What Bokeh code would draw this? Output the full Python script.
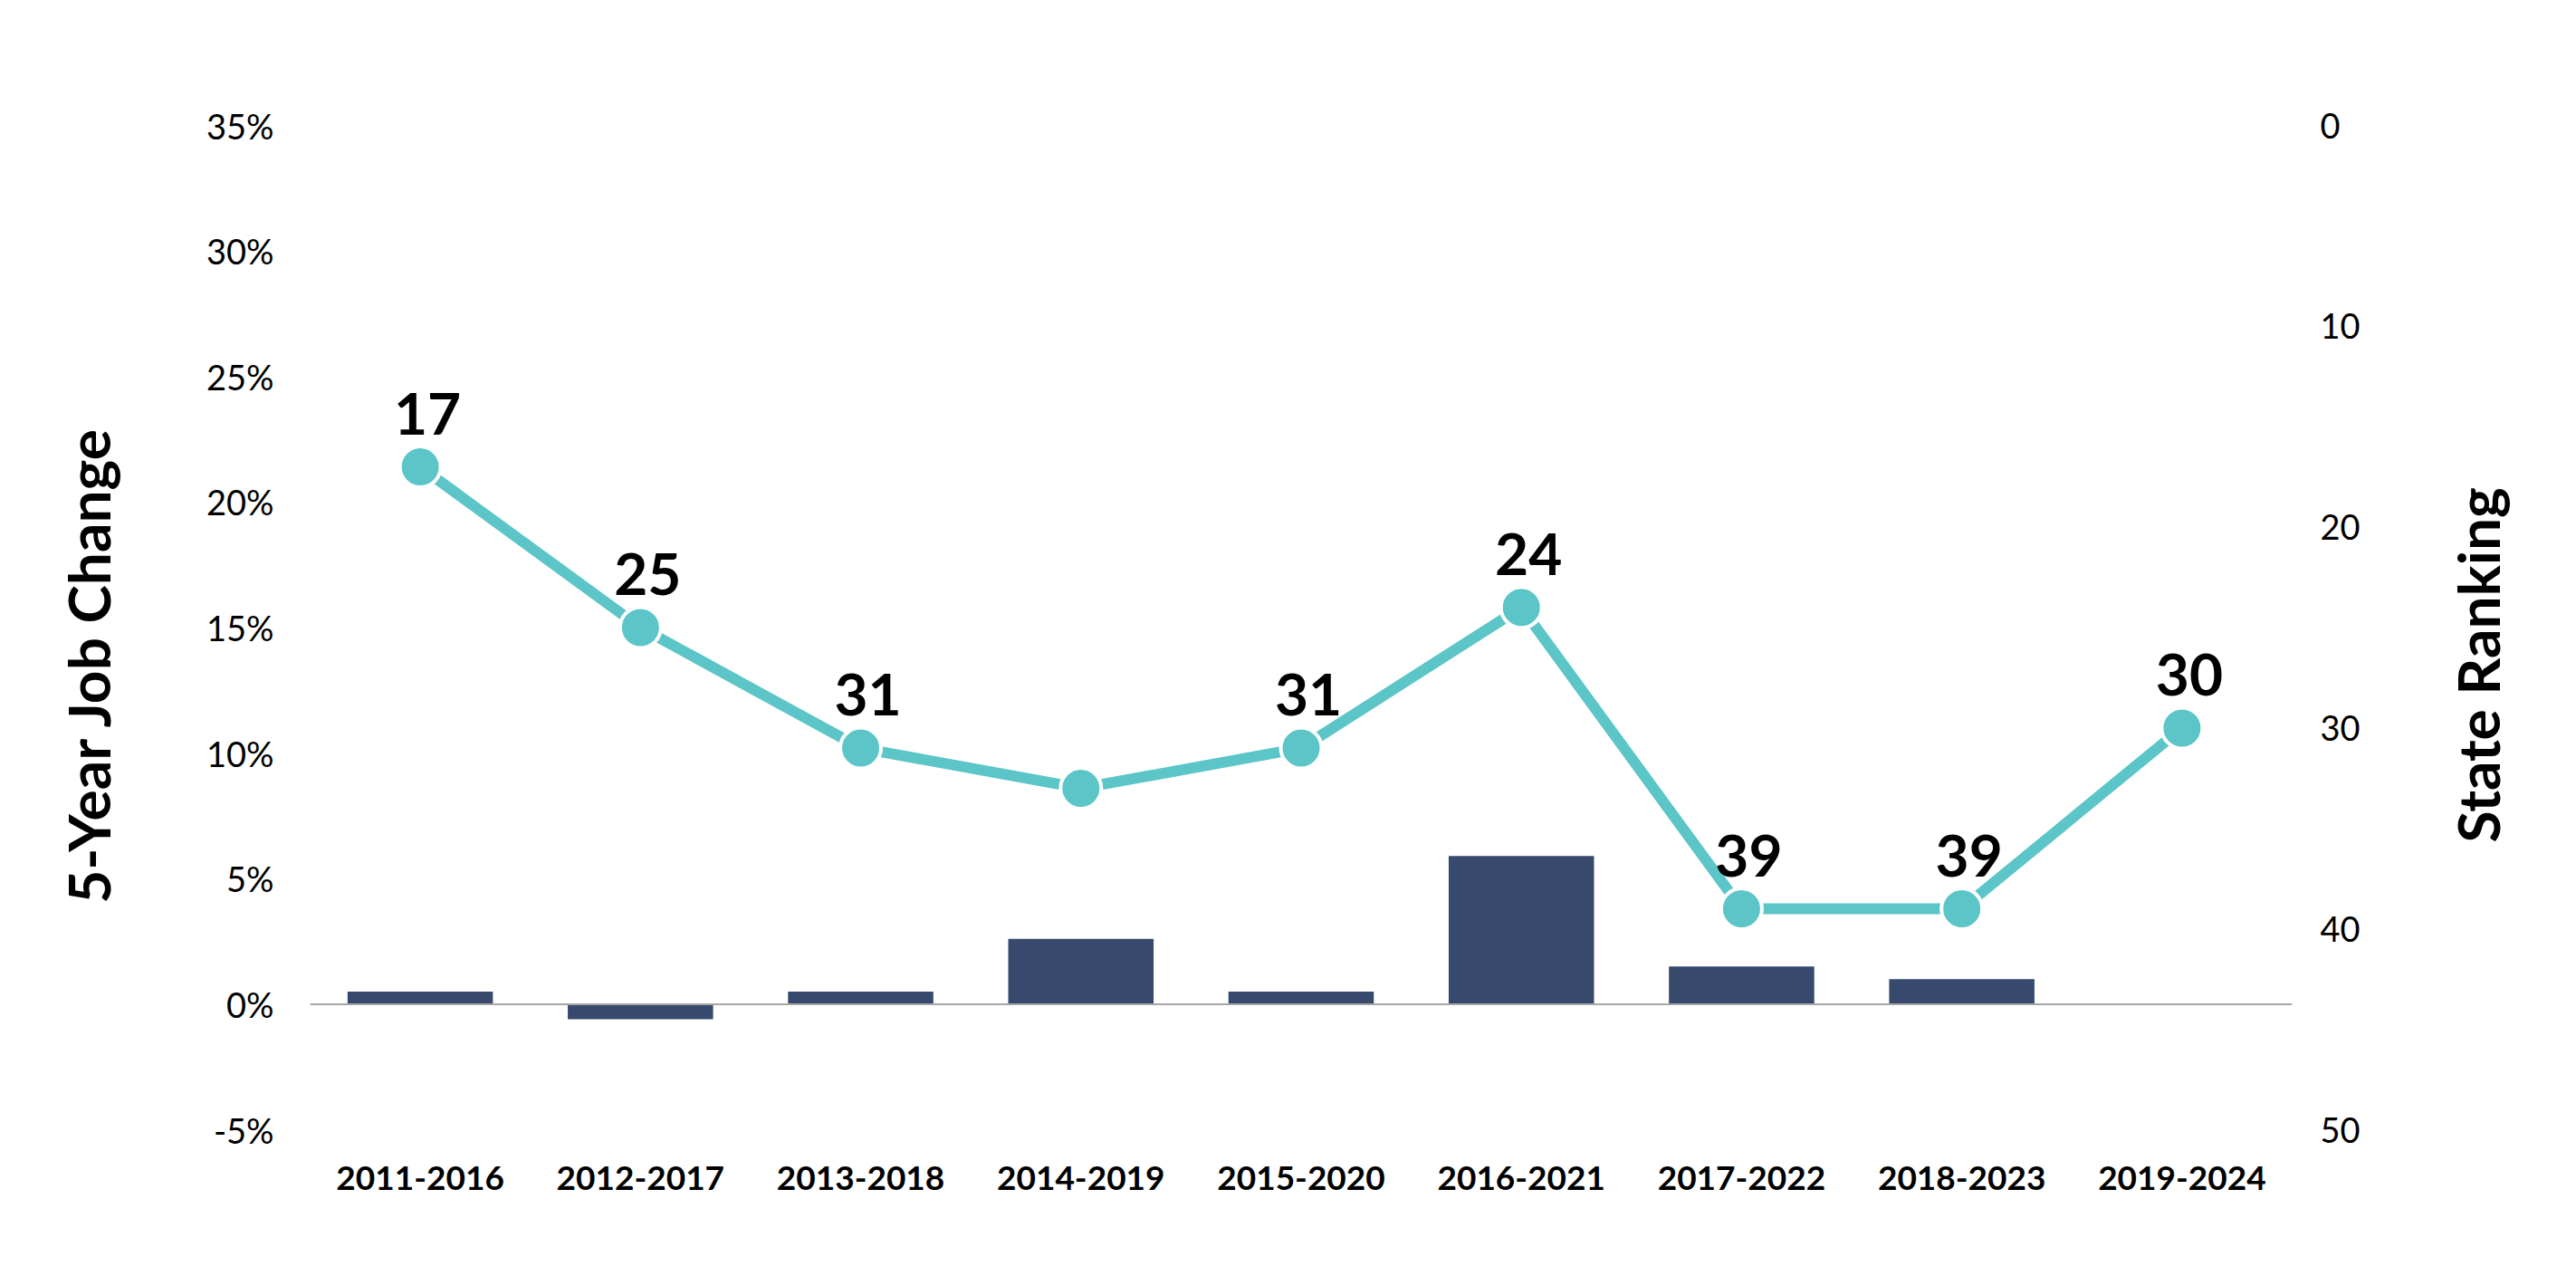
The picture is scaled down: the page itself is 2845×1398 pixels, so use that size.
import math
from bokeh.plotting import figure
from bokeh.layouts import row
from bokeh.models import (Range1d, FactorRange, LinearAxis, FixedTicker,
                          PrintfTickFormatter, Span, ColumnDataSource)
from bokeh.core.properties import value
from bokeh.embed import file_html
from bokeh.resources import INLINE

# ---------------- data ----------------
periods = ["2011-2016", "2012-2017", "2013-2018", "2014-2019", "2015-2020",
           "2016-2021", "2017-2022", "2018-2023", "2019-2024"]
job_change_pct = [0.5, -0.6, 0.5, 2.6, 0.5, 5.9, 1.5, 1.0, 0.0]
state_rank = [17, 25, 31, 33, 31, 24, 39, 39, 30]
rank_labels = ["17", "25", "31", "", "31", "24", "39", "39", "30"]
pct_ticks = [-5, 0, 5, 10, 15, 20, 25, 30, 35]
rank_ticks = [0, 10, 20, 30, 40, 50]
left_title = "5-Year Job Change"
right_title = "State Ranking"

BAR = "#374A6D"
TEAL = "#5BC5C8"
FONT = "Lato"

src = ColumnDataSource(dict(period=periods, pct=job_change_pct,
                            rank=state_rank, label=rank_labels))

# ---------------- layout geometry ----------------
H = 1396
LW = 150            # left title strip
MW = 2500           # main chart
RW = 193            # right title strip
FRAME_LEFT = 342
FRAME_RIGHT = 2531
FRAME_TOP = 138
FRAME_BOTTOM = 1247
MT = FRAME_TOP
MB = H - FRAME_BOTTOM
ML = FRAME_LEFT - LW
MR = LW + MW - FRAME_RIGHT
TITLE_Y = H - 750

p = figure(width=MW, height=H, x_range=FactorRange(*periods),
           y_range=Range1d(pct_ticks[0], pct_ticks[-1]),
           output_backend="svg", toolbar_location=None,
           min_border_left=ML, min_border_right=MR,
           min_border_top=MT, min_border_bottom=MB)
p.extra_y_ranges = {"rank": Range1d(start=rank_ticks[-1], end=rank_ticks[0])}

p.outline_line_color = None
p.xgrid.grid_line_color = None
p.ygrid.grid_line_color = None
p.background_fill_color = "white"
p.border_fill_color = "white"

# bars
p.vbar(x="period", top="pct", bottom=0, width=0.66, source=src,
       fill_color=BAR, line_color=None)

# zero line
p.add_layout(Span(location=0, dimension="width", line_color="#A6A6A6",
                  line_width=2))

# ranking line
p.line(x="period", y="rank", source=src, y_range_name="rank",
       line_color=TEAL, line_width=12)
p.scatter(x="period", y="rank", source=src, y_range_name="rank",
          size=45, fill_color=TEAL, line_color="white", line_width=4)
p.text(x="period", y="rank", text="label", source=src, y_range_name="rank",
       x_offset=8, y_offset=-59, text_align="center",
       text_baseline="alphabetic", text_font=value(FONT),
       text_font_style="bold", text_font_size="64px", text_color="black")

# left axis
ya = p.yaxis[0]
ya.ticker = FixedTicker(ticks=pct_ticks)
ya.formatter = PrintfTickFormatter(format="%d%%")
ya.axis_line_color = None
ya.major_tick_line_color = None
ya.minor_tick_line_color = None
ya.major_tick_out = 0
ya.major_tick_in = 0
ya.major_label_standoff = 40
ya.major_label_text_font = FONT
ya.major_label_text_font_size = "38px"
ya.major_label_text_color = "black"

# x axis
xa = p.xaxis[0]
xa.axis_line_color = None
xa.major_tick_line_color = None
xa.minor_tick_line_color = None
xa.major_tick_out = 0
xa.major_tick_in = 0
xa.major_label_standoff = 40
xa.major_label_text_font = FONT
xa.major_label_text_font_style = "bold"
xa.major_label_text_font_size = "37px"
xa.major_label_text_color = "black"

# right axis
ra = LinearAxis(y_range_name="rank", ticker=FixedTicker(ticks=rank_ticks))
ra.axis_line_color = None
ra.major_tick_line_color = None
ra.minor_tick_line_color = None
ra.major_tick_out = 0
ra.major_tick_in = 0
ra.major_label_standoff = 31
ra.major_label_text_font = FONT
ra.major_label_text_font_size = "38px"
ra.major_label_text_color = "black"
p.add_layout(ra, "right")


def title_strip(width, text, x_base):
    t = figure(width=width, height=H, x_range=Range1d(0, width),
               y_range=Range1d(0, H), output_backend="svg",
               toolbar_location=None, min_border=0)
    t.axis.visible = False
    t.grid.visible = False
    t.outline_line_color = None
    t.border_fill_color = "white"
    t.text(x=[x_base], y=[TITLE_Y], text=[text], angle=math.pi / 2,
           text_align="center", text_baseline="alphabetic",
           text_font=value(FONT), text_font_style="bold",
           text_font_size="64px", text_color="black")
    return t


left = title_strip(LW, left_title, 97)
right = title_strip(RW, right_title, 86)

layout = row(left, p, right, spacing=0)
open("out.html", "w").write(file_html(layout, INLINE))
